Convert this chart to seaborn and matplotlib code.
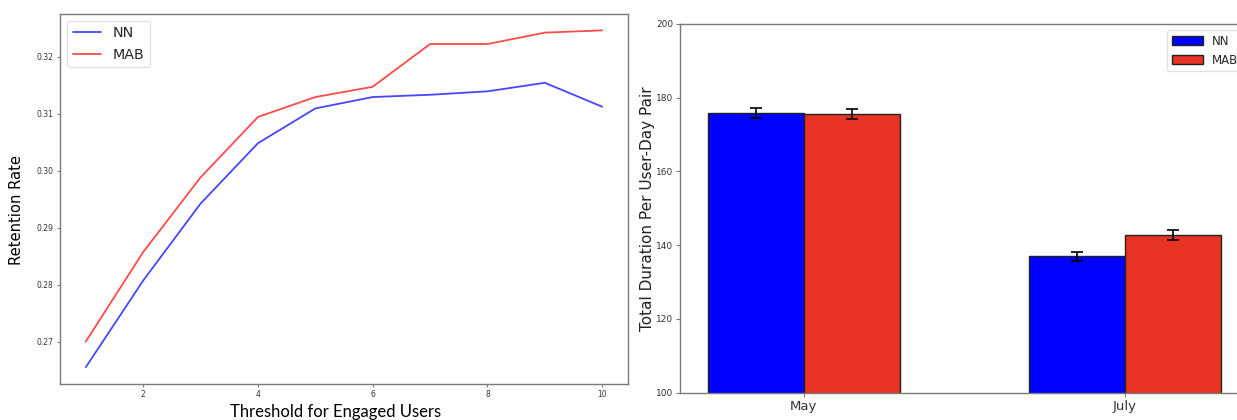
import numpy as np
import pandas as pd
import matplotlib
matplotlib.use("Agg")
import matplotlib.pyplot as plt
import seaborn as sns

# Retention rate by engagement threshold
thresholds = [1, 2, 3, 4, 5, 6, 7, 8, 9, 10]
retention_nn = [0.2655, 0.2807, 0.2942, 0.3048, 0.3109, 0.3129, 0.3133, 0.3139, 0.3154, 0.3112]
retention_mab = [0.2700, 0.2857, 0.2988, 0.3094, 0.3129, 0.3147, 0.3222, 0.3222, 0.3242, 0.3246]

# Total duration per user-day pair by month
months = ["May", "July"]
duration_nn = [175.8, 137.0]
duration_mab = [175.6, 142.7]
err_nn = [1.4, 1.2]
err_mab = [1.3, 1.3]

models = ["NN", "MAB"]

sns.set_theme(style="ticks")
plt.rcParams["font.family"] = ["DejaVu Sans"]
plt.rcParams["axes.edgecolor"] = "#7a7a7a"
plt.rcParams["axes.linewidth"] = 1.0
plt.rcParams["xtick.color"] = "#7a7a7a"
plt.rcParams["ytick.color"] = "#7a7a7a"
plt.rcParams["xtick.labelcolor"] = "#333333"
plt.rcParams["ytick.labelcolor"] = "#333333"

fig = plt.figure(figsize=(12.37, 4.2), dpi=100)

# ---- left: line chart ----
ax1 = fig.add_axes([0.0485, 0.0857, 0.4592, 0.8821])
line_df = pd.DataFrame({
    "threshold": thresholds * 2,
    "rate": retention_nn + retention_mab,
    "model": ["NN"] * len(thresholds) + ["MAB"] * len(thresholds),
})
sns.lineplot(data=line_df, x="threshold", y="rate", hue="model", hue_order=models,
             palette={"NN": "#4646ff", "MAB": "#ff4a4a"}, linewidth=1.3, ax=ax1)
ax1.set_xticks([2, 4, 6, 8, 10])
ax1.set_yticks([0.27, 0.28, 0.29, 0.30, 0.31, 0.32])
ax1.set_yticklabels(["0.27", "0.28", "0.29", "0.30", "0.31", "0.32"])
ax1.tick_params(axis="both", labelsize=5.5, length=2.5, width=0.8, pad=2)
ax1.set_ylabel("Retention Rate", fontsize=10.6, color="black")
ax1.yaxis.set_label_coords(-0.063, 0.47)
ax1.set_xlabel("Threshold for Engaged Users", fontsize=12, family=["Lato", "DejaVu Sans"],
               color="black")
ax1.xaxis.set_label_coords(0.485, -0.055)
leg1 = ax1.legend(loc="upper left", fontsize=10.3, frameon=True, handlelength=2.0)
leg1.get_frame().set_edgecolor("#dddddd")
ax1.margins(x=0.05, y=0.05)

# ---- right: grouped bar chart ----
ax2 = fig.add_axes([0.5497, 0.065, 0.4600, 0.8779])
bar_df = pd.DataFrame({
    "month": months * 2,
    "duration": duration_nn + duration_mab,
    "err": err_nn + err_mab,
    "model": ["NN"] * len(months) + ["MAB"] * len(months),
})
sns.barplot(data=bar_df, x="month", y="duration", hue="model", order=months, hue_order=models,
            palette={"NN": "#0000ff", "MAB": "#e63323"}, width=0.6, errorbar=None,
            edgecolor="#222222", linewidth=1.0, saturation=1.0, ax=ax2)
# error bars at the centre of each bar
for cont, model in zip(ax2.containers, models):
    sub = bar_df[bar_df["model"] == model].set_index("month").loc[months]
    xs = [p.get_x() + p.get_width() / 2 for p in cont.patches]
    ax2.errorbar(xs, sub["duration"].values, yerr=sub["err"].values, fmt="none",
                 ecolor="black", elinewidth=1.2, capsize=4.5, capthick=1.2, zorder=5)
ax2.set_ylim(100, 200)
ax2.set_xlim(-0.386, 1.386)
ax2.set_yticks([100, 120, 140, 160, 180, 200])
ax2.tick_params(axis="y", labelsize=6.5, length=3, width=0.8, pad=2)
ax2.tick_params(axis="x", labelsize=9.5, length=3, width=0.8, pad=2)
ax2.set_xlabel("")
ax2.set_ylabel("Total Duration Per User-Day Pair", fontsize=11, color="#222222")
ax2.yaxis.set_label_coords(-0.044, 0.5)
leg2 = ax2.legend(loc="upper right", fontsize=8.5, frameon=True, handlelength=2.6,
                  handleheight=0.9)
leg2.get_frame().set_edgecolor("#dddddd")

fig.savefig("out.png", dpi=100, facecolor="white")
